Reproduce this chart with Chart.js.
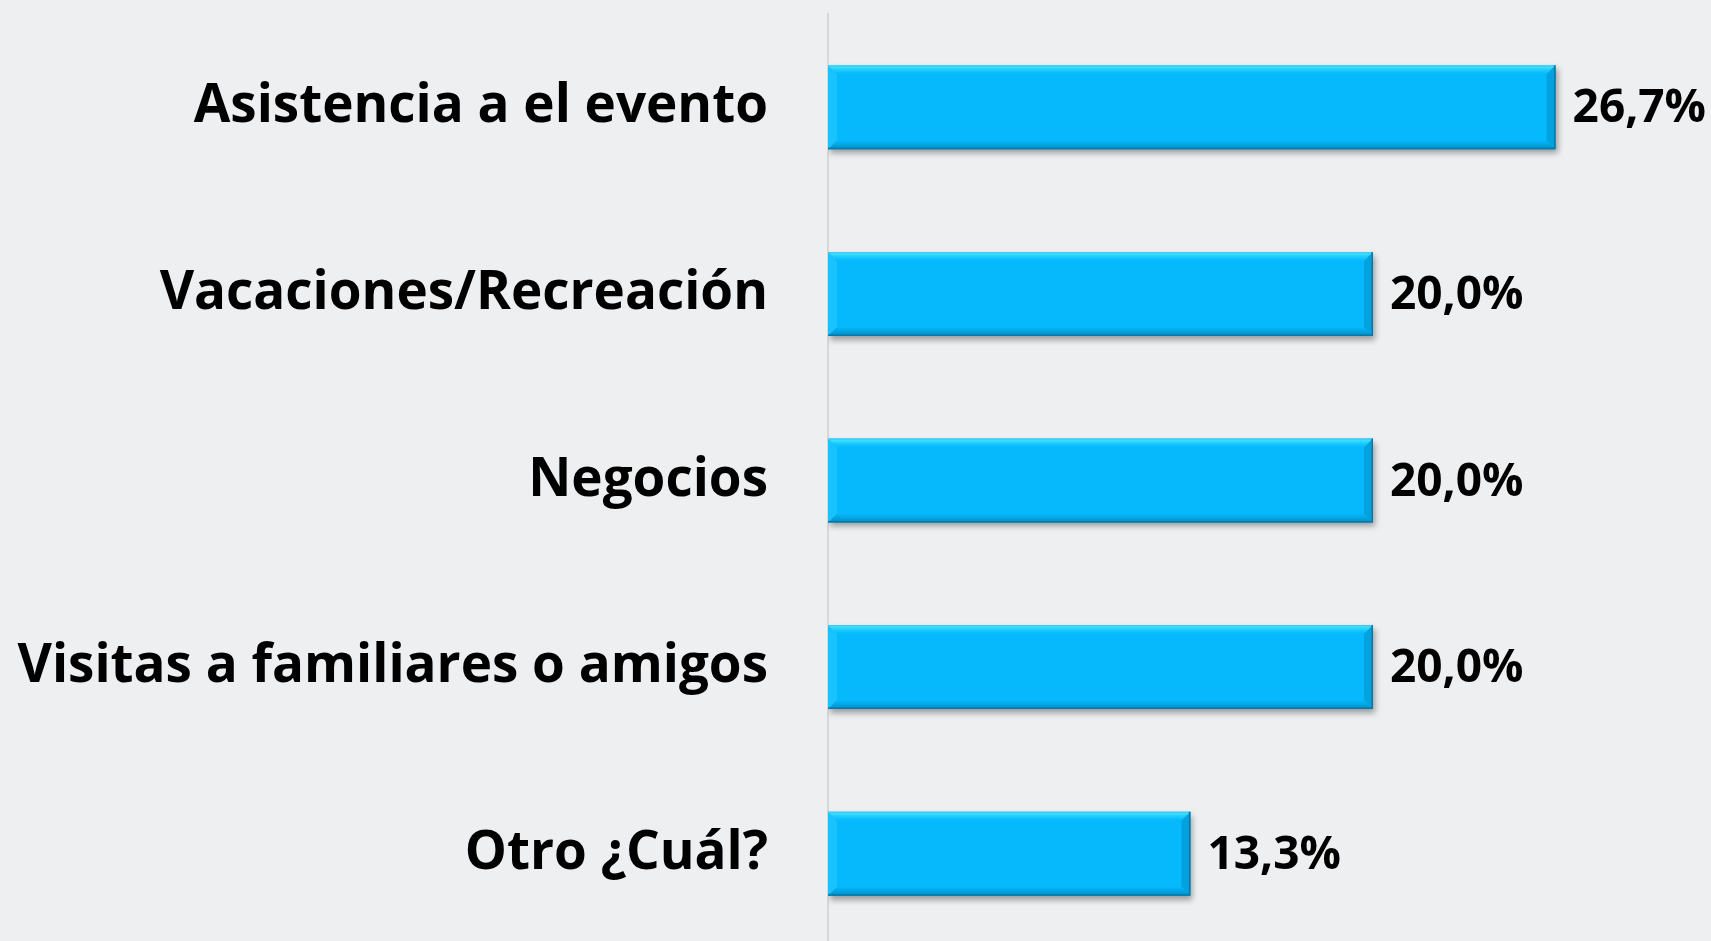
<!DOCTYPE html>
<html>
<head>
<meta charset="utf-8">
<script src="https://cdn.jsdelivr.net/npm/chart.js@4/dist/chart.umd.min.js"></script>
<style>
  html, body { margin: 0; padding: 0; background: #eeeff1; overflow: hidden; }
  #wrap { width: 1711px; height: 947px; position: relative; }
</style>
</head>
<body>
<div id="wrap"><canvas id="chart"></canvas></div>
<script>
// categorías y porcentajes
const categorias = [
    'Asistencia a el evento',
    'Vacaciones/Recreación',
    'Negocios',
    'Visitas a familiares o amigos',
    'Otro ¿Cuál?'
];
const porcentajes = [26.7, 20.0, 20.0, 20.0, 13.3];

const FUENTE = '"Open Sans", "Noto Sans", sans-serif';

// formato con coma decimal
function formatoPct(v) {
    return v.toFixed(1).replace('.', ',') + '%';
}

// sombra bajo las barras
const sombraPlugin = {
    id: 'sombra',
    beforeDatasetsDraw(chart) {
        const ctx = chart.ctx;
        ctx.save();
        ctx.shadowColor = 'rgba(0, 0, 0, 0.35)';
        ctx.shadowBlur = 6;
        ctx.shadowOffsetX = 2;
        ctx.shadowOffsetY = 4;
    },
    afterDatasetsDraw(chart) {
        chart.ctx.restore();
    }
};

// bisel sobre cada barra + etiquetas de valor
const biselPlugin = {
    id: 'bisel',
    afterDatasetsDraw(chart) {
        const ctx = chart.ctx;
        const meta = chart.getDatasetMeta(0);
        meta.data.forEach((bar, i) => {
            const left = bar.base;
            const right = bar.x;
            const top = bar.y - bar.height / 2;
            const bottom = bar.y + bar.height / 2;
            const b = 9;

            ctx.save();
            // borde superior claro
            let g = ctx.createLinearGradient(0, top, 0, top + b);
            g.addColorStop(0, 'rgba(90, 245, 255, 0.95)');
            g.addColorStop(1, 'rgba(40, 210, 255, 0.0)');
            ctx.fillStyle = g;
            ctx.beginPath();
            ctx.moveTo(left, top);
            ctx.lineTo(right, top);
            ctx.lineTo(right - b, top + b);
            ctx.lineTo(left + b, top + b);
            ctx.closePath();
            ctx.fill();

            // borde inferior oscuro
            g = ctx.createLinearGradient(0, bottom - b, 0, bottom);
            g.addColorStop(0, 'rgba(0, 120, 170, 0.0)');
            g.addColorStop(1, 'rgba(0, 110, 160, 0.6)');
            ctx.fillStyle = g;
            ctx.beginPath();
            ctx.moveTo(left, bottom);
            ctx.lineTo(right, bottom);
            ctx.lineTo(right - b, bottom - b);
            ctx.lineTo(left + b, bottom - b);
            ctx.closePath();
            ctx.fill();

            // lado izquierdo
            ctx.fillStyle = 'rgba(60, 215, 255, 0.35)';
            ctx.beginPath();
            ctx.moveTo(left, top);
            ctx.lineTo(left + b, top + b);
            ctx.lineTo(left + b, bottom - b);
            ctx.lineTo(left, bottom);
            ctx.closePath();
            ctx.fill();

            // lado derecho
            ctx.fillStyle = 'rgba(0, 120, 170, 0.35)';
            ctx.beginPath();
            ctx.moveTo(right, top);
            ctx.lineTo(right - b, top + b);
            ctx.lineTo(right - b, bottom - b);
            ctx.lineTo(right, bottom);
            ctx.closePath();
            ctx.fill();

            // línea superior e inferior
            ctx.strokeStyle = 'rgba(70, 200, 240, 1)';
            ctx.lineWidth = 1.5;
            ctx.beginPath();
            ctx.moveTo(left, top + 0.75);
            ctx.lineTo(right, top + 0.75);
            ctx.stroke();
            ctx.strokeStyle = 'rgba(10, 120, 165, 1)';
            ctx.beginPath();
            ctx.moveTo(left, bottom - 0.75);
            ctx.lineTo(right, bottom - 0.75);
            ctx.moveTo(right - 0.75, top);
            ctx.lineTo(right - 0.75, bottom);
            ctx.stroke();

            // etiqueta de valor
            ctx.fillStyle = '#000000';
            ctx.font = 'bold 46px ' + FUENTE;
            ctx.textAlign = 'left';
            ctx.textBaseline = 'middle';
            ctx.fillText(formatoPct(porcentajes[i]), right + 17, bar.y + 2);
            ctx.restore();
        });
    }
};

const ctx = document.getElementById('chart').getContext('2d');
new Chart(ctx, {
    type: 'bar',
    data: {
        labels: categorias,
        datasets: [{
            data: porcentajes,
            backgroundColor: '#05b9fc',
            borderWidth: 0,
            categoryPercentage: 0.9,
            barPercentage: 0.5
        }]
    },
    options: {
        indexAxis: 'y',
        responsive: true,
        maintainAspectRatio: false,
        animation: false,
        layout: {
            padding: { top: 14, right: 11, bottom: 0, left: 0 }
        },
        plugins: {
            legend: { display: false },
            tooltip: { enabled: false },
            title: { display: false }
        },
        scales: {
            x: {
                display: false,
                min: 0,
                max: 32
            },
            y: {
                grid: { display: false, drawTicks: true, tickLength: 60 },
                border: { display: true, color: '#d6d7d9', width: 2 },
                ticks: {
                    color: '#000000',
                    padding: 0,
                    font: { family: FUENTE, size: 53, weight: 'bold' }
                },
                afterFit(scale) {
                    scale.width = 828;
                    scale.paddingTop = 0;
                    scale.paddingBottom = 0;
                }
            }
        }
    },
    plugins: [sombraPlugin, biselPlugin]
});
</script>
</body>
</html>
